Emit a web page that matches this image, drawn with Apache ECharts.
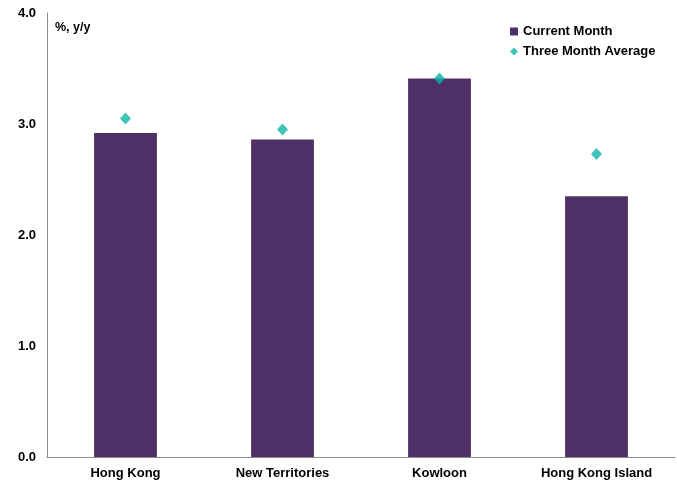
<!DOCTYPE html>
<html><head><meta charset="utf-8">
<script src="https://cdn.jsdelivr.net/npm/echarts@6/dist/echarts.min.js"></script>
<style>html,body{margin:0;padding:0;background:#fff}#c{width:677px;height:487px}</style>
</head><body><div id="c"></div>
<script>
const categories = ['Hong Kong', 'New Territories', 'Kowloon', 'Hong Kong Island'];
const currentMonth = [2.92, 2.86, 3.41, 2.35];
const threeMonthAvg = [3.05, 2.95, 3.41, 2.73];
const yTicks = [0, 1, 2, 3, 4];

const chart = echarts.init(document.getElementById('c'));
const font = 'Liberation Sans, Arial, sans-serif';
chart.setOption({
  animation: false,
  grid: { left: 47, right: 2, top: 13, bottom: 30 },
  legend: {
    orient: 'vertical', left: 505, top: 20, itemGap: 7, itemWidth: 8, itemHeight: 8,
    textStyle: { fontFamily: font, fontWeight: 'bold', fontSize: 13, color: '#000' },
    data: [{ name: 'Current Month', icon: 'rect' }, { name: 'Three Month Average', icon: 'diamond' }]
  },
  xAxis: {
    type: 'category', data: categories,
    axisLine: { lineStyle: { color: '#8c8c8c' } },
    axisTick: { show: false },
    axisLabel: { fontFamily: font, fontWeight: 'bold', fontSize: 13, color: '#000', margin: 10 }
  },
  yAxis: {
    type: 'value', min: 0, max: 4, interval: 1,
    axisLine: { show: true, lineStyle: { color: '#8c8c8c' } },
    axisTick: { show: false },
    splitLine: { show: false },
    axisLabel: { fontFamily: font, fontWeight: 'bold', fontSize: 13, color: '#000', margin: 11,
      formatter: v => v.toFixed(1) }
  },
  graphic: [{ type: 'text', left: 55, top: 21, style: { text: '%, y/y', fontFamily: font, fontWeight: 'bold', fontSize: 12.5, fill: '#000' } }],
  series: [
    { name: 'Current Month', type: 'bar', data: currentMonth, barWidth: '40%',
      itemStyle: { color: '#4e3066' } },
    { name: 'Three Month Average', type: 'scatter', data: threeMonthAvg, symbol: 'diamond', symbolSize: [11, 12],
      itemStyle: { color: '#0fb3a9' }, z: 5 }
  ]
});
</script></body></html>
